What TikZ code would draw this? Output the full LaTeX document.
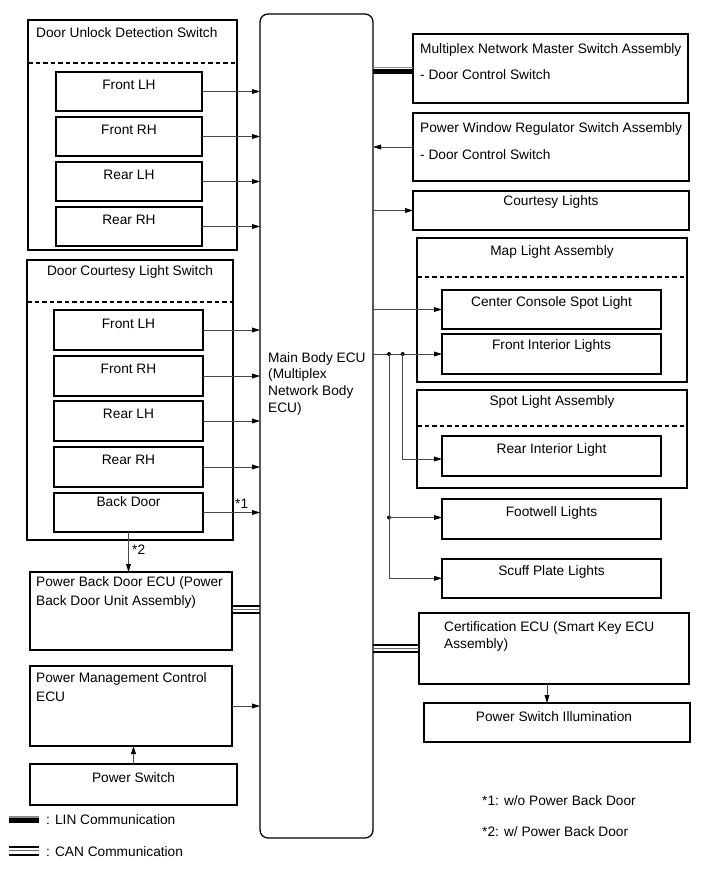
\documentclass[tikz,border=0pt]{standalone}
\usepackage{fontspec}
\setmainfont{Liberation Sans}
\usetikzlibrary{arrows.meta}
\newcommand\mybox[6][]{\node[box,#1,minimum width={(#5-#3)*1pt},minimum height={(#6-#4)*1pt}] (#2) at (#3,#4) {};}
\begin{document}
\begin{tikzpicture}[x=1pt,y=-1pt,
 box/.style={draw=black, line width=1.3pt, inner sep=0pt, outer sep=0pt, anchor=north west, fill=white},
 txt/.style={inner sep=0pt, font=\fontsize{13.7}{16.7}\selectfont},
 conn/.style={draw=black!72, line width=0.8pt},
 arr/.style={conn, -{Triangle[length=8pt,width=4.8pt,color=black]}},
 dsh/.style={draw=black, line width=1.2pt, dash pattern=on 4.5pt off 3pt},
 dot/.style={circle, fill=black, inner sep=0pt, minimum size=4pt},
 lin/.style={draw=black, line width=5.5pt, preaction={draw=black!45, line width=1.5pt, transform canvas={yshift=3.7pt}}},
 can/.style={draw=black!60, line width=0.9pt, preaction={draw=black, line width=2pt, transform canvas={yshift=3.8pt}}, preaction={draw=black, line width=2pt, transform canvas={yshift=-3.8pt}}}]
\useasboundingbox (0,0) rectangle (713,882);

% Main ECU
\node[box, rounded corners=8pt, minimum width=113pt, minimum height=824pt] (ecu) at (260,14) {};
\node[txt, anchor=north west, align=left] (ecut) at (268,352) {Main Body ECU\\(Multiplex\\Network Body\\ECU)};

% Door Unlock Detection Switch
\mybox{dud}{28}{20}{237}{250}
\node[txt, anchor=base west] (dudt) at (36,38) {Door Unlock Detection Switch};
\draw[dsh] ([yshift=-43pt]dud.north west) -- ([yshift=-43pt]dud.north east);
\mybox{ufl}{56}{72}{202}{111}
\mybox{ufr}{56}{117}{202}{156}
\mybox{url}{56}{162}{202}{201}
\mybox{urr}{56}{207}{202}{246}
\node[txt, anchor=base] (uflt) at (ufl.north |- 0,90) {Front LH};
\node[txt, anchor=base] (ufrt) at (ufr.north |- 0,135) {Front RH};
\node[txt, anchor=base] (urlt) at (url.north |- 0,180) {Rear LH};
\node[txt, anchor=base] (urrt) at (urr.north |- 0,225) {Rear RH};
\foreach \b in {ufl,ufr,url,urr} {\draw[arr] (\b.east) -- (\b.east -| ecu.west);}

% Door Courtesy Light Switch
\mybox{dcl}{27}{260}{233}{540}
\node[txt, anchor=base] (dclt) at (dcl.north |- 0,276) {Door Courtesy Light Switch};
\draw[dsh] ([yshift=-42pt]dcl.north west) -- ([yshift=-42pt]dcl.north east);
\mybox{cfl}{54}{310}{203}{350}
\mybox{cfr}{54}{356}{203}{396}
\mybox{crl}{54}{401}{203}{441}
\mybox{crr}{54}{447}{203}{487}
\mybox{cbd}{54}{493}{203}{532}
\node[txt, anchor=base] (cflt) at (cfl.north |- 0,328) {Front LH};
\node[txt, anchor=base] (cfrt) at (cfr.north |- 0,373) {Front RH};
\node[txt, anchor=base] (crlt) at (crl.north |- 0,418) {Rear LH};
\node[txt, anchor=base] (crrt) at (crr.north |- 0,464) {Rear RH};
\node[txt, anchor=base] (cbdt) at (cbd.north |- 0,506) {Back Door};
\foreach \b in {cfl,cfr,crl,crr,cbd} {\draw[arr] (\b.east) -- (\b.east -| ecu.west);}
\node[txt, anchor=base west] (s1) at (235,508.5) {*1};

% Power Back Door ECU
\mybox{pbd}{30}{572}{232}{650}
\node[txt, anchor=north west, align=left] (pbdt) at (36,576.5) {Power Back Door ECU (Power\\[2pt]Back Door Unit Assembly)};
\draw[arr] (cbd.south) -- (cbd.south |- pbd.north);
\node[txt, anchor=base west] (s2) at (132,554) {*2};
\coordinate (pbdc) at (pbd.east |- 0,609.5);
\draw[can] (pbdc) -- (pbdc -| ecu.west);

% Power Management Control ECU
\mybox{pmc}{30}{666}{232}{746}
\node[txt, anchor=north west, align=left] (pmct) at (36,672.5) {Power Management Control\\[2pt]ECU};
\draw[arr] (pmc.east) -- (pmc.east -| ecu.west);
\mybox{ps}{30}{764}{237}{805}
\node[txt, anchor=base] (pst) at (ps.north |- 0,782) {Power Switch};
\draw[arr] (ps.north) -- (ps.north |- pmc.south);

% Legend
\coordinate (linA) at (9,820.5);
\coordinate (linB) at (39,820.5);
\draw[lin] (linA) -- (linB);
\node[txt, anchor=base west] (lint) at (46,824.5) {: LIN Communication};
\coordinate (canA) at (9,850.8);
\coordinate (canB) at (39,850.8);
\draw[can] (canA) -- (canB);
\node[txt, anchor=base west] (cant) at (46,856) {: CAN Communication};

% Right column
\mybox{mnms}{413}{34}{688}{103}
\node[txt, anchor=base west] (mnmst1) at (420,53.3) {Multiplex Network Master Switch Assembly};
\node[txt, anchor=base west] (mnmst2) at (420,79.3) {- Door Control Switch};
\coordinate (mnmsc) at (mnms.west |- 0,71.4);
\draw[lin] (mnmsc -| ecu.east) -- (mnmsc);

\mybox{pwr}{413}{113}{689}{181}
\node[txt, anchor=base west] (pwrt1) at (420,133) {Power Window Regulator Switch Assembly};
\node[txt, anchor=base west] (pwrt2) at (420,160) {- Door Control Switch};
\draw[arr] (pwr.west) -- (pwr.west -| ecu.east);

\mybox{cl}{413}{191}{689}{230}
\node[txt, anchor=base] (clt) at (cl.north |- 0,206) {Courtesy Lights};
\draw[arr] (cl.west -| ecu.east) -- (cl.west);

\mybox{mla}{417}{238}{687}{382}
\node[txt, anchor=base] (mlat) at (mla.north |- 0,255) {Map Light Assembly};
\draw[dsh] ([yshift=-39pt]mla.north west) -- ([yshift=-39pt]mla.north east);
\mybox{ccsl}{442}{290}{661}{329}
\node[txt, anchor=base] (ccslt) at (ccsl.north |- 0,306) {Center Console Spot Light};
\mybox{fil}{442}{334}{661}{374}
\node[txt, anchor=base] (filt) at (fil.north |- 0,349.5) {Front Interior Lights};

\mybox{sla}{417}{390}{687}{488}
\node[txt, anchor=base] (slat) at (sla.north |- 0,405) {Spot Light Assembly};
\draw[dsh] ([yshift=-36pt]sla.north west) -- ([yshift=-36pt]sla.north east);
\mybox{ril}{442}{436}{661}{476}
\node[txt, anchor=base] (rilt) at (ril.north |- 0,453) {Rear Interior Light};

\mybox{fwl}{442}{499}{661}{539}
\node[txt, anchor=base] (fwlt) at (fwl.north |- 0,516) {Footwell Lights};
\mybox{spl}{442}{559}{661}{598}
\node[txt, anchor=base] (splt) at (spl.north |- 0,575) {Scuff Plate Lights};

\draw[arr] (ccsl.west -| ecu.east) -- (ccsl.west);
\draw[arr] (fil.west -| ecu.east) -- (fil.west);
\node[dot] (d1) at (fil.west -| 389,0) {};
\node[dot] (d2) at (fil.west -| 402.7,0) {};
\coordinate (rilin) at (ril.west |- 0,459);
\draw[arr] (d2.center) |- (rilin);
\node[dot] (d3) at (d1 |- 0,517.5) {};
\draw[arr] (d3.center) -- (d3 -| fwl.west);
\coordinate (splin) at (spl.west |- 0,578.3);
\draw[arr] (d1.center) |- (splin);

\mybox{cert}{419}{613}{689}{684}
\node[txt, anchor=north west, align=left] (certt) at (444,621) {Certification ECU (Smart Key ECU\\[1pt]Assembly)};
\draw[can] (cert.west -| ecu.east) -- (cert.west);
\mybox{psi}{424}{703}{690}{742}
\node[txt, anchor=base] (psit) at (554,721) {Power Switch Illumination};
\coordinate (certo) at (547,684);
\draw[arr] (certo) -- (certo |- psi.north);

\node[txt, anchor=base west] (n1) at (482,805) {*1: w/o Power Back Door};
\node[txt, anchor=base west] (n2) at (482,836) {*2: w/ Power Back Door};
\end{tikzpicture}
\end{document}
